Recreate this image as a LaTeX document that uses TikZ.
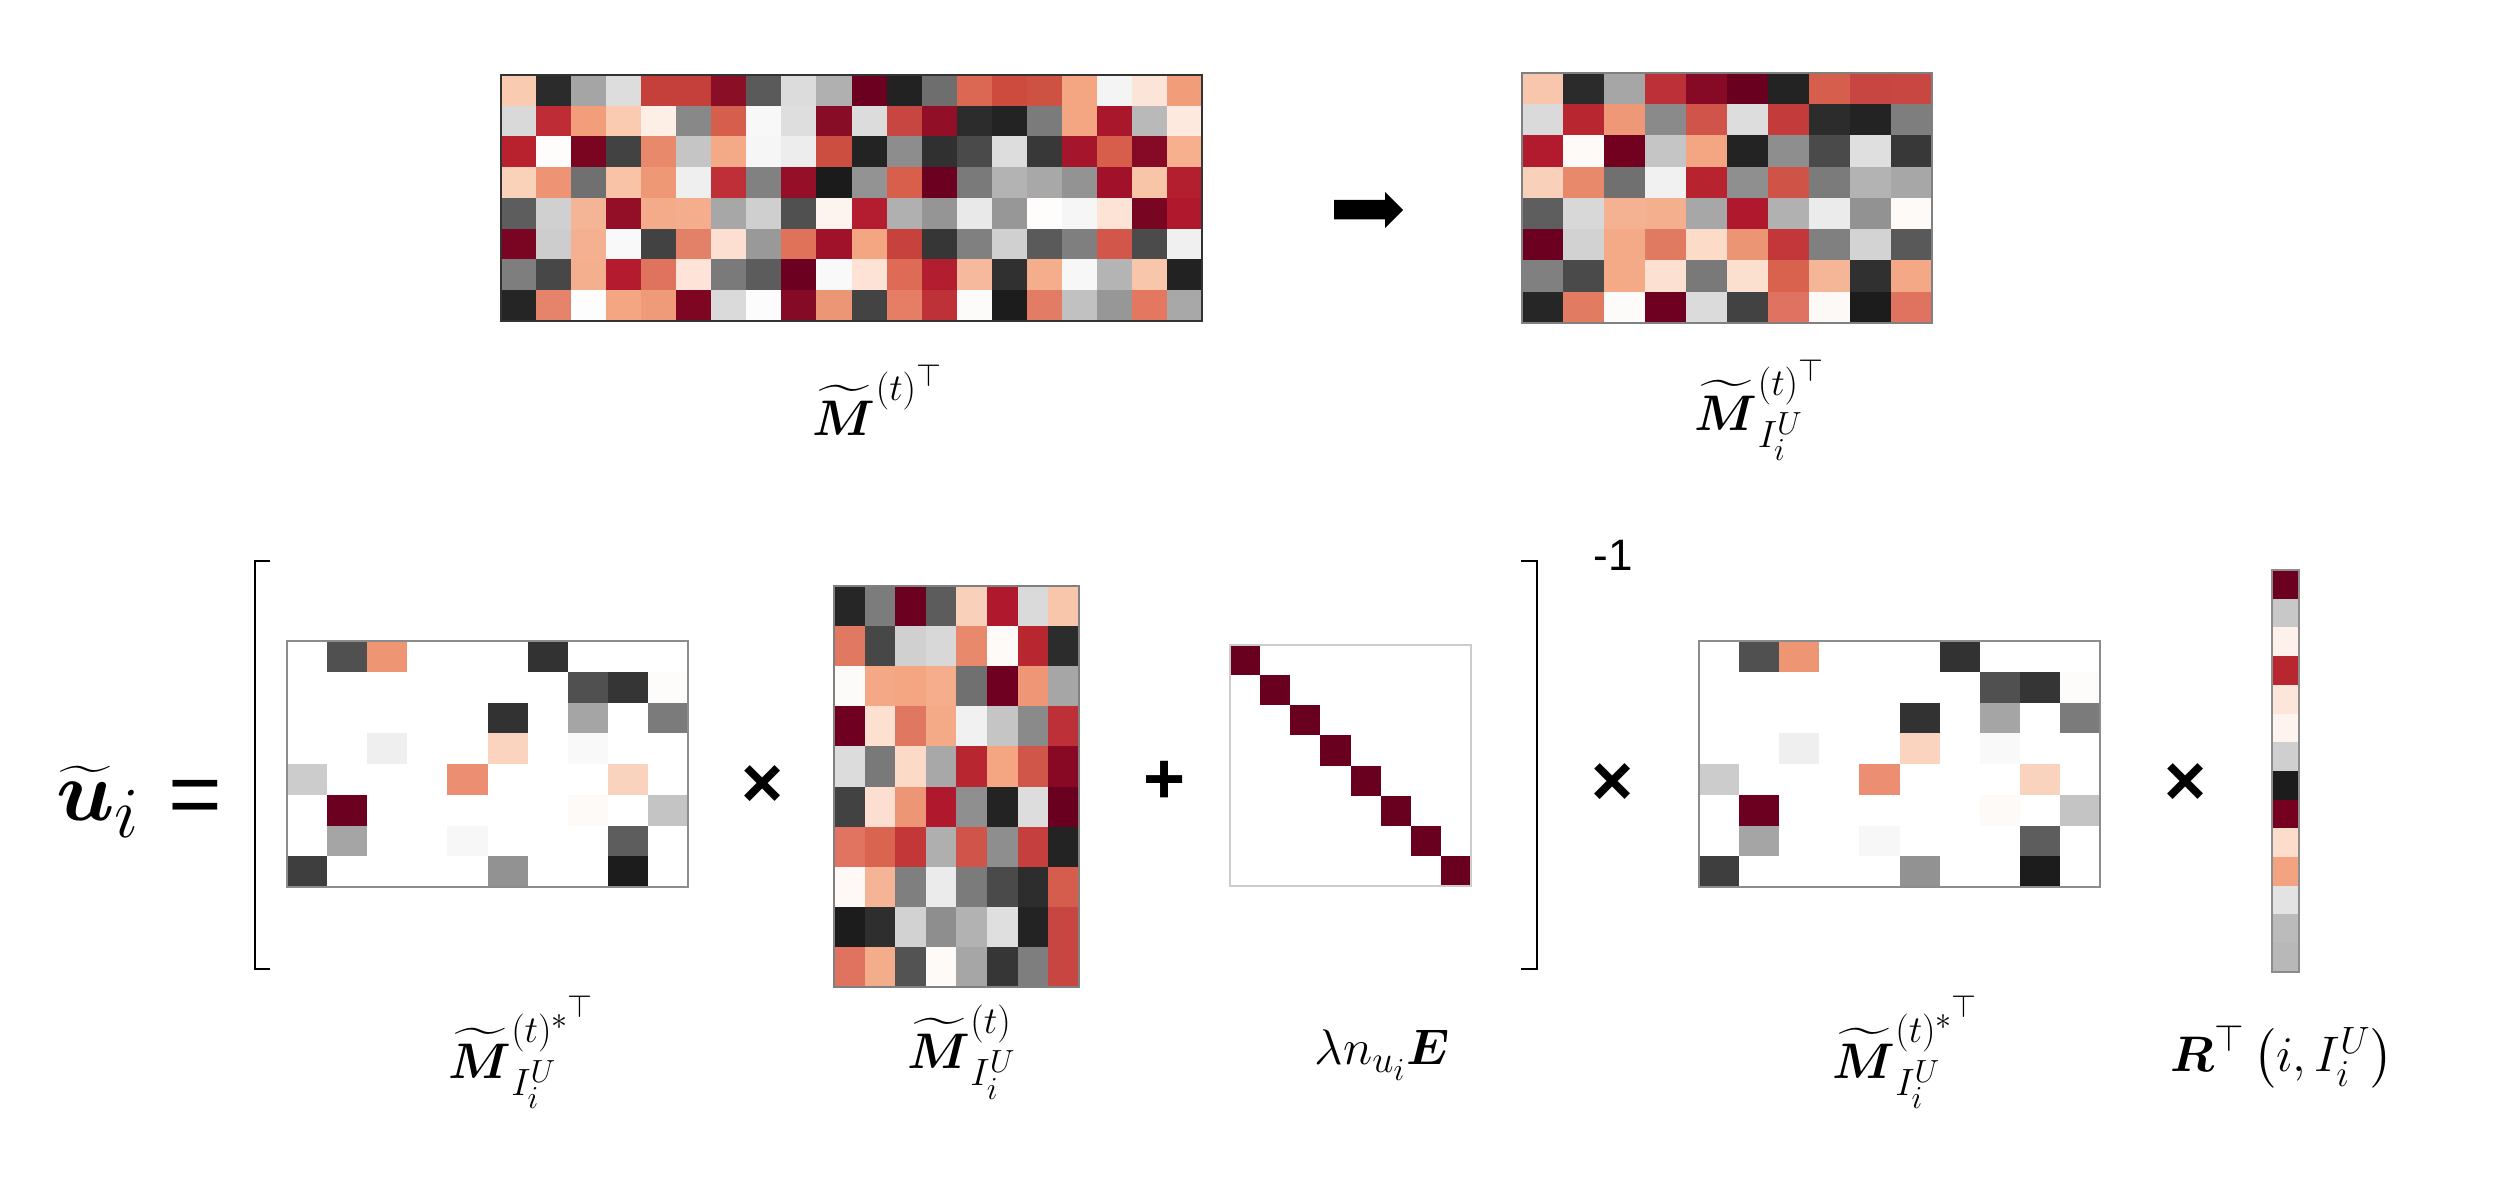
\RequirePackage{fix-cm}
\documentclass[tikz,border=0pt]{standalone}
\usepackage{amsmath}
\usepackage{fontspec}
\newfontfamily\arialf{Liberation Sans}
\usetikzlibrary{fit}
\DeclareMathSizes{25}{25}{19}{16}
\DeclareMathSizes{43}{43}{36}{28}
\newcommand{\cellrow}[5]{%
  \foreach \cc [count=\ii from 0] in {#5}{%
    \edef\tmpdef{\noexpand\definecolor{cellc}{HTML}{\cc}}\tmpdef
    \fill[cellc] ({#1+\ii*#3},{#2}) rectangle ++({#3},{#4});
  }%
}
\tikzset{
  frame/.style={draw=#1, line width=0.6pt, inner sep=0pt, fill=none},
  lbl/.style={inner sep=0pt, font=\fontsize{25}{30}\selectfont},
  opsign/.style={inner sep=0pt, font=\arialf\bfseries\fontsize{36}{40}\selectfont},
  brk/.style={line width=1.1pt, black},
}
\begin{document}
\begin{tikzpicture}[x=0.5pt, y=-0.5pt]
\useasboundingbox (0,0) rectangle (2508,1182);
\fill[white] (0,0) rectangle (2508,1182);
% ---------- top-left matrix (20 x 8)
\cellrow{501}{75+0*30.75}{35.05}{30.75}{F9CBB0,2B2B2B,A5A5A5,DDDDDD,C5403A,C5403A,8A0E25,5A5A5A,DCDCDC,B0B0B0,6B0020,222222,6E6E6E,DB6852,CD4A3E,CD5244,F4A582,F4F4F4,FDE4D8,F29D7A}
\cellrow{501}{75+1*30.75}{35.05}{30.75}{D9D9D9,BE2D36,F29E7A,FACBB0,FEEFE6,888888,D65E4C,F8F8F8,DEDEDE,870C25,DCDCDC,C84641,920F28,2C2C2C,232323,7B7B7B,F4A582,A9172C,B9B9B9,FDE9DD}
\cellrow{501}{75+2*30.75}{35.05}{30.75}{B8222F,FEFDFC,7A0520,424242,E8896B,C5C5C5,F5AA87,F6F6F6,EDEDED,CB4E41,232323,8D8D8D,303030,4A4A4A,DDDDDD,383838,A5152C,D65E4A,850A25,F6B08E}
\cellrow{501}{75+3*30.75}{35.05}{30.75}{FAD1B9,EE9474,707070,F8C3A6,EE9876,EFEFEF,BE2F37,818181,940F27,1B1B1B,939393,D75F4B,6C0020,7A7A7A,B3B3B3,A8A8A8,939393,A1122A,F8C5A9,B31F2E}
\cellrow{501}{75+4*30.75}{35.05}{30.75}{5D5D5D,D0D0D0,F4B597,930F27,F3AB8A,F4AE8D,A7A7A7,CFCFCF,505050,FEF4EF,B41D2F,B0B0B0,959595,E9E9E9,979797,FEFDFB,F6F6F6,FDE3D6,780522,B0182D}
\cellrow{501}{75+5*30.75}{35.05}{30.75}{7A0522,CDCDCD,F4B090,F9F9F9,424242,E38068,FCDFD0,999999,E07259,A0112A,F4A582,C7423D,363636,808080,D0D0D0,5A5A5A,7F7F7F,D2574A,4B4B4B,F0F0F0}
\cellrow{501}{75+6*30.75}{35.05}{30.75}{7E7E7E,474747,F4AF8E,B41B2E,E0735E,FEE4D8,7A7A7A,5C5C5C,6B0021,F9F9F9,FDE3D5,DE6B56,B21E2F,F6B99D,303030,F4AE8C,F7F7F7,B4B4B4,F8C6AA,222222}
\cellrow{501}{75+7*30.75}{35.05}{30.75}{252525,E5846B,FDFDFD,F4A683,EF9A79,7E0623,DADADA,FCFCFC,850A25,ED9676,434343,E57E64,BE3139,FCFBF9,1C1C1C,E27C64,C1C1C1,979797,E3775F,A8A8A8}
\node[frame=black!80, fit={(501,75)(1202,321)}] (TLm) {};
% ---------- top-right matrix (10 x 8)
\cellrow{1522}{73+0*31.25}{41}{31.25}{F8C6AD,2B2B2B,A6A6A6,BE3037,860A25,6A0020,232323,D65E4C,C84641,C84841}
\cellrow{1522}{73+1*31.25}{41}{31.25}{DADADA,B8262F,EE9878,8A8A8A,D0544A,DDDDDD,C33C3B,2C2C2C,232323,7E7E7E}
\cellrow{1522}{73+2*31.25}{41}{31.25}{B21B2D,FEFAF7,72001F,C5C5C5,F4A683,232323,8E8E8E,4A4A4A,DFDFDF,383838}
\cellrow{1522}{73+3*31.25}{41}{31.25}{F9D0BA,E8896C,707070,F1F1F1,B72430,8F8F8F,CF5447,7B7B7B,B3B3B3,A7A7A7}
\cellrow{1522}{73+4*31.25}{41}{31.25}{5E5E5E,D8D8D8,F4B293,F4AF8E,A7A7A7,B0182D,B1B1B1,EBEBEB,929292,FEFAF7}
\cellrow{1522}{73+5*31.25}{41}{31.25}{6B0021,D2D2D2,F4AA86,E07A61,FCDCC9,EC9575,C3373A,808080,D3D3D3,595959}
\cellrow{1522}{73+6*31.25}{41}{31.25}{808080,4A4A4A,F4AA86,FCE1D3,797979,FBE0D0,D9624F,F5B597,303030,F4A885}
\cellrow{1522}{73+7*31.25}{41}{31.25}{262626,E17C62,FCFBFA,6E0021,DBDBDB,424242,E07261,FDF9F6,1C1C1C,E07260}
\node[frame=black!50, fit={(1522,73)(1932,323)}] (TRm) {};
% ---------- block arrow
\coordinate (arT) at (1334,210);
\coordinate (arH) at (1403,210);
\fill[black] (1334,200) -- (1385,200) -- (1385,192) -- (arH) -- (1385,228) -- (1385,219.5) -- (1334,219.5) -- cycle;
% ---------- top labels
\node[lbl] (lTL) at (878,400) {$\widetilde{\boldsymbol{M}}^{(t)^{\top}}$};
\node[lbl] (lTR) at (1760,410) {$\widetilde{\boldsymbol{M}}^{(t)^{\top}}_{I_i^U}$};
% ---------- bottom row
\node[inner sep=0pt, font=\fontsize{43}{47}\selectfont] (lu) at (98,802) {$\widetilde{\boldsymbol{u}}_i$};
\node[inner sep=0pt, font=\arialf\fontsize{46}{50}\selectfont] (eq) at (195,803) {=};
% left bracket
\coordinate (lb1) at (270,561); \coordinate (lb2) at (255,561);
\coordinate (lb3) at (255,969); \coordinate (lb4) at (270,969);
\draw[brk] (lb1) -- (lb2) -- (lb3) -- (lb4);
% matrix 1 and its copy (10 x 8)
\foreach \xo/\nm in {287/Am,1699/Dm}{
\cellrow{\xo}{641+0*30.75}{40.1}{30.75}{FFFFFF,505050,EE9574,FFFFFF,FFFFFF,FFFFFF,323232,FFFFFF,FFFFFF,FFFFFF}
\cellrow{\xo}{641+1*30.75}{40.1}{30.75}{FFFFFF,FFFFFF,FFFFFF,FFFFFF,FFFFFF,FFFFFF,FFFFFF,505050,353535,FDFCFB}
\cellrow{\xo}{641+2*30.75}{40.1}{30.75}{FFFFFF,FFFFFF,FFFFFF,FFFFFF,FFFFFF,323232,FFFFFF,A5A5A5,FFFFFF,7B7B7B}
\cellrow{\xo}{641+3*30.75}{40.1}{30.75}{FFFFFF,FFFFFF,EFEFEF,FFFFFF,FFFFFF,FAD4BE,FFFFFF,F9F9F9,FFFFFF,FFFFFF}
\cellrow{\xo}{641+4*30.75}{40.1}{30.75}{CCCCCC,FFFFFF,FFFFFF,FFFFFF,EB8E72,FFFFFF,FFFFFF,FFFFFF,FAD3BE,FFFFFF}
\cellrow{\xo}{641+5*30.75}{40.1}{30.75}{FFFFFF,6B0021,FFFFFF,FFFFFF,FFFFFF,FFFFFF,FFFFFF,FEFAF8,FFFFFF,C4C4C4}
\cellrow{\xo}{641+6*30.75}{40.1}{30.75}{FFFFFF,A5A5A5,FFFFFF,FFFFFF,F7F7F7,FFFFFF,FFFFFF,FFFFFF,5D5D5D,FFFFFF}
\cellrow{\xo}{641+7*30.75}{40.1}{30.75}{3E3E3E,FFFFFF,FFFFFF,FFFFFF,FFFFFF,929292,FFFFFF,FFFFFF,1C1C1C,FFFFFF}
\node[frame=black!45, fit={(\xo,641)(\xo+401,887)}] (\nm) {};
}
% matrix 2 (8 x 10)
\cellrow{834}{586+0*40.1}{30.6}{40.1}{262626,7C7C7C,6B0021,5C5C5C,F9D0B9,B0182D,DADADA,F8C6AB}
\cellrow{834}{586+1*40.1}{30.6}{40.1}{E07862,474747,D0D0D0,D8D8D8,E8896C,FEFAF7,B8262F,2C2C2C}
\cellrow{834}{586+2*40.1}{30.6}{40.1}{FCFBFA,F4A886,F4A683,F4AE8C,707070,6F0021,EE9676,A6A6A6}
\cellrow{834}{586+3*40.1}{30.6}{40.1}{6F0021,FDE0D0,E07760,F4AA87,F1F1F1,C5C5C5,8A8A8A,BD3037}
\cellrow{834}{586+4*40.1}{30.6}{40.1}{DCDCDC,797979,FCDAC8,A8A8A8,B8262F,F4A683,D1564A,870924}
\cellrow{834}{586+5*40.1}{30.6}{40.1}{424242,FCDFD0,EC9676,B0182D,8F8F8F,232323,DDDDDD,6A0020}
\cellrow{834}{586+6*40.1}{30.6}{40.1}{E07460,D9644F,C33739,AFAFAF,D0544A,8E8E8E,C43F3D,232323}
\cellrow{834}{586+7*40.1}{30.6}{40.1}{FEF9F6,F5B496,7F7F7F,EBEBEB,7B7B7B,4A4A4A,2D2D2D,D55D4D}
\cellrow{834}{586+8*40.1}{30.6}{40.1}{1C1C1C,2E2E2E,D2D2D2,8E8E8E,B2B2B2,DFDFDF,232323,C84641}
\cellrow{834}{586+9*40.1}{30.6}{40.1}{E07260,F4AD8B,535353,FEFAF7,A6A6A6,363636,7E7E7E,C84641}
\node[frame=black!50, fit={(834,586)(1079,987)}] (Bm) {};
% identity (8 x 8)
\definecolor{diagc}{HTML}{6A0020}
\foreach \k in {0,...,7}{
  \fill[diagc] ({1230+\k*30.125},{645+\k*30.125}) rectangle ++(30.125,30.125);
}
\node[frame=black!20, fit={(1230,645)(1471,886)}] (Cm) {};
% right bracket
\coordinate (rb1) at (1521,561); \coordinate (rb2) at (1537,561);
\coordinate (rb3) at (1537,969); \coordinate (rb4) at (1521,969);
\draw[brk] (rb1) -- (rb2) -- (rb3) -- (rb4);
\node[inner sep=0pt, font=\arialf\fontsize{22}{26}\selectfont] (inv) at (1613,555) {-1};
% vector (1 x 14)
\foreach \cc [count=\ii from 0] in {6B0021,C8C8C8,FDF1EC,B8262F,FCE5D9,FDF3EF,CFCFCF,1C1C1C,75001F,FCDCCB,F4A380,E3E3E3,BBBBBB,B8B8B8}{
  \edef\tmpdef{\noexpand\definecolor{cellc}{HTML}{\cc}}\tmpdef
  \fill[cellc] (2272,{570+\ii*28.7}) rectangle ++(27,28.7);
}
\node[frame=black!45, fit={(2272,570)(2299,972)}] (Em) {};
% operator signs
\node[opsign] (op1) at (763,787) {×};
\node[opsign] (op2) at (1165,782) {+};
\node[opsign] (op3) at (1613,785) {×};
\node[opsign] (op4) at (2186,785) {×};
% bottom labels
\node[lbl] (l1) at (522,1052) {$\widetilde{\boldsymbol{M}}^{(t)^{*^{\top}}}_{I_i^U}$};
\node[lbl] (l2) at (962,1052) {$\widetilde{\boldsymbol{M}}^{(t)}_{I_i^U}$};
\node[lbl] (l3) at (1382,1055) {$\lambda n_{u_i}\boldsymbol{E}$};
\node[lbl] (l4) at (1906,1052) {$\widetilde{\boldsymbol{M}}^{(t)^{*^{\top}}}_{I_i^U}$};
\node[lbl] (l5) at (2282,1057) {$\boldsymbol{R}^{\top}\left(i, I_i^U\right)$};
\end{tikzpicture}
\end{document}
